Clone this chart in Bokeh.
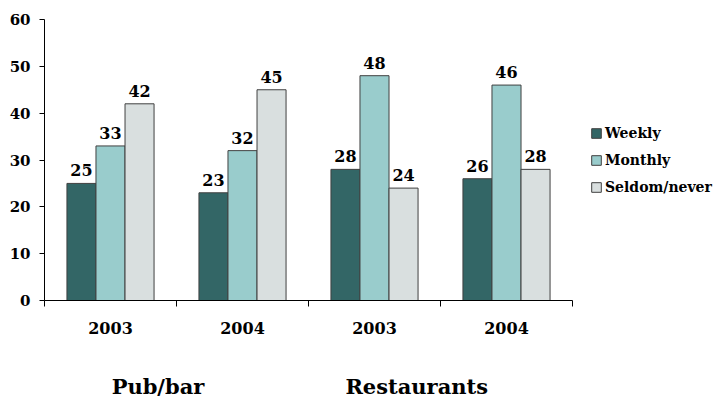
from bokeh.plotting import figure
from bokeh.models import (ColumnDataSource, FixedTicker, Legend, LegendItem, LinearAxis)
from bokeh.core.properties import value
from bokeh.embed import file_html
from bokeh.resources import INLINE

# Survey data: share (%) by frequency, for each venue / year
years = ["2003", "2004", "2003", "2004"]
venues = ["Pub/bar", "Restaurants"]
series = ["Weekly", "Monthly", "Seldom/never"]
weekly = [25, 23, 28, 26]
monthly = [33, 32, 48, 46]
seldom = [42, 45, 24, 28]

colors = ["#336666", "#99cccc", "#d9dfdf"]
FONT = "DejaVu Serif"

bar_w = 0.22
offsets = [-bar_w, 0.0, bar_w]
values_by_series = [weekly, monthly, seldom]

# the frame runs to the right edge so the legend can sit beside the bars;
# the x axis line is bounded to the four categories
n = len(years)
plot_w, cat_px = 671, 132
p = figure(frame_width=plot_w, frame_height=281,
           x_range=(0, plot_w / cat_px), y_range=(0, 60),
           output_backend="svg", toolbar_location=None,
           min_border_left=44, min_border_right=0,
           min_border_top=19, min_border_bottom=105)
p.outline_line_color = None
p.xgrid.visible = False
p.ygrid.visible = False
p.background_fill_color = None
p.border_fill_color = "white"

renderers = []
for name, vals, off, col in zip(series, values_by_series, offsets, colors):
    xs = [i + 0.5 + off for i in range(n)]
    src = ColumnDataSource(dict(x=xs, top=vals, label=[str(v) for v in vals]))
    r = p.vbar(x="x", top="top", width=bar_w, bottom=0, source=src,
               fill_color=col, line_color="#404040", line_width=1)
    renderers.append(r)
    p.text(x="x", y="top", text="label", source=src,
           text_align="center", text_baseline="bottom", y_offset=-7,
           text_font=value(FONT), text_font_style="bold",
           text_font_size="16px", text_color="black")

# y axis
p.yaxis.ticker = FixedTicker(ticks=list(range(0, 61, 10)))
p.yaxis.minor_tick_line_color = None
p.yaxis.major_tick_in = 0
p.yaxis.major_tick_out = 5
p.yaxis.major_label_standoff = 9
p.yaxis.axis_line_color = "black"
p.yaxis.major_tick_line_color = "black"
p.yaxis.major_label_text_font = FONT
p.yaxis.major_label_text_font_style = "bold"
p.yaxis.major_label_text_font_size = "15px"
p.yaxis.major_label_text_color = "black"

# x axis: labels at category centres, tick marks at category boundaries
centers = [i + 0.5 for i in range(n)]
bounds = list(range(n + 1))
p.xaxis.ticker = FixedTicker(ticks=centers, minor_ticks=bounds)
p.xaxis.bounds = (0, n)
p.xaxis.major_label_overrides = {c: y for c, y in zip(centers, years)}
p.xaxis.major_tick_line_color = None
p.xaxis.major_tick_out = 0
p.xaxis.major_tick_in = 0
p.xaxis.minor_tick_in = 0
p.xaxis.minor_tick_out = 6
p.xaxis.minor_tick_line_color = "black"
p.xaxis.axis_line_color = "black"
p.xaxis.major_label_standoff = 15
p.xaxis.major_label_text_font = FONT
p.xaxis.major_label_text_font_style = "bold"
p.xaxis.major_label_text_font_size = "16px"
p.xaxis.major_label_text_color = "black"

# venue captions under each pair of years, as a second bottom axis
venue_x = [0.86, 2.82]
venue_axis = LinearAxis(ticker=FixedTicker(ticks=venue_x, minor_ticks=[]),
                        major_label_overrides={vx: v for vx, v in zip(venue_x, venues)},
                        axis_line_color=None, major_tick_line_color=None,
                        minor_tick_line_color=None,
                        major_tick_in=0, major_tick_out=0,
                        major_label_standoff=37,
                        major_label_text_font=FONT,
                        major_label_text_font_style="bold",
                        major_label_text_font_size="21px",
                        major_label_text_color="black")
p.add_layout(venue_axis, "below")

legend = Legend(items=[LegendItem(label=s, renderers=[r]) for s, r in zip(series, renderers)],
                location=(546, 105), orientation="vertical",
                border_line_color=None, background_fill_alpha=0,
                padding=0, margin=0, spacing=11,
                glyph_width=12, glyph_height=12, label_standoff=3,
                label_text_font=FONT, label_text_font_style="bold",
                label_text_font_size="14px", label_text_color="black")
p.add_layout(legend)

open("out.html", "w").write(file_html(p, INLINE))
